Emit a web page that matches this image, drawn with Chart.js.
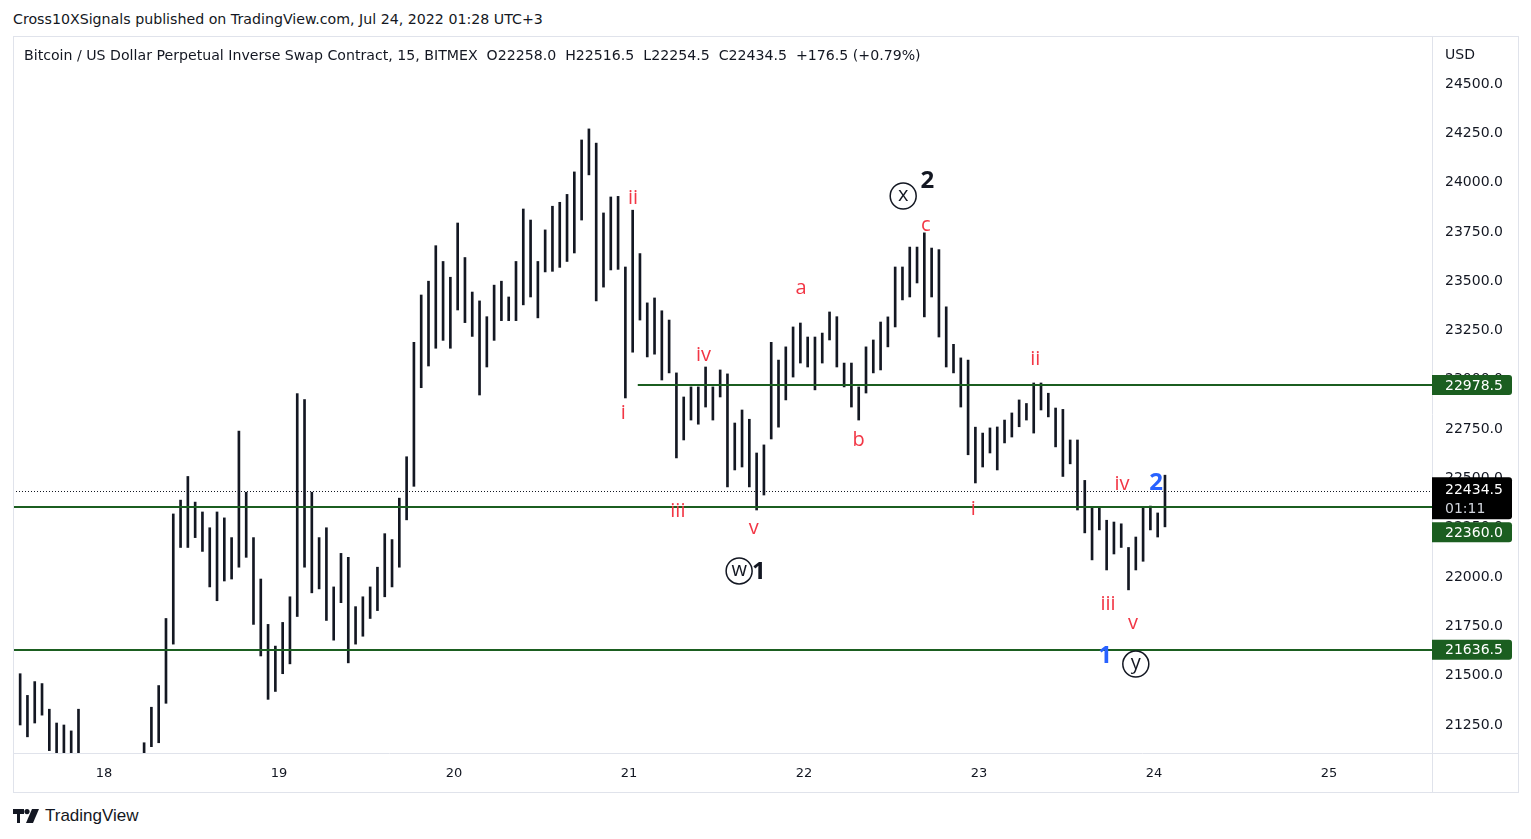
<!DOCTYPE html>
<html><head><meta charset="utf-8">
<script src="https://cdn.jsdelivr.net/npm/chart.js@4/dist/chart.umd.min.js"></script>
<style>
html,body{margin:0;padding:0;background:#fff;width:1531px;height:839px;overflow:hidden;font-family:"DejaVu Sans",sans-serif;color:#131722}
#hdr{position:absolute;left:13px;top:11px;font-size:14.2px;white-space:nowrap}
#frame{position:absolute;left:13px;top:36px;width:1504px;height:755px;border:1px solid #e0e3eb;pointer-events:none}
#wrap{position:absolute;left:13px;top:36px;width:1506px;height:757px}
#legend{position:absolute;left:24px;top:47px;font-size:14.15px;white-space:nowrap}
#usd{position:absolute;left:1445px;top:46px;font-size:14px}
#logo{position:absolute;left:13px;top:805px;height:22px;display:flex;align-items:center}
#logo span{font-size:17px;margin-left:6px;color:#131722;font-family:"Liberation Sans",Arial,sans-serif}
</style>
</head><body>
<div id="hdr">Cross10XSignals published on TradingView.com, Jul 24, 2022 01:28 UTC+3</div>
<div id="wrap"><canvas id="c"></canvas></div>
<div id="frame"></div>
<div id="legend">Bitcoin / US Dollar Perpetual Inverse Swap Contract, 15, BITMEX&nbsp; O22258.0&nbsp; H22516.5&nbsp; L22254.5&nbsp; C22434.5&nbsp; +176.5 (+0.79%)</div>
<div id="usd">USD</div>
<div id="logo"><svg width="26" height="14" viewBox="0 0 26 14"><path d="M0 0h11v5H7v9H4V5H0z" fill="#131722"/><circle cx="14" cy="2.6" r="2.6" fill="#131722"/><path d="M19 0h7l-6 14h-7z" fill="#131722"/></svg><span>TradingView</span></div>
<script>
// hourly bars, first bar = Jul 17 12:00 (hours relative to Jul 18 00:00)
const startHour = -12;
const highs = [21510,21400,21470,21460,21330,21260,21250,21220,21330,21080,21060,21020,21000,21040,21070,21090,21100,21160,21340,21450,
21790,22320,22390,22510,22380,22330,22250,22330,22300,22200,22740,22430,22200,21990,21760,21650,21770,21900,22930,22900,
22430,22200,22250,21950,22120,22100,21850,21900,21950,22050,22220,22190,22400,22610,23190,23430,23500,23680,23600,23520,
23795,23620,23445,23400,23320,23480,23500,23420,23600,23866,23810,23600,23760,23880,23900,23940,24054,24216,24272,24200,
23846,23927,23930,23572,23860,23640,23390,23415,23350,23303,23035,22913,22964,22964,23065,22964,23050,23030,22781,22847,
22800,22629,22670,23190,23100,23167,23268,23288,23217,23217,23237,23344,23320,23085,23085,22964,23167,23202,23293,23319,
23572,23572,23673,23673,23745,23668,23660,23370,23180,23111,23100,22760,22730,22756,22761,22796,22832,22898,22880,22984,
22984,22932,22857,22850,22695,22695,22490,22355,22355,22288,22279,22270,22150,22203,22350,22360,22325,22516.5];
const lows = [21250,21190,21260,21300,21120,21050,21050,21040,21050,20900,20880,20850,20800,20830,20880,20900,20920,21050,21140,21160,
21360,21660,22150,22150,22200,22130,21950,21880,21980,21990,22050,22100,21760,21600,21380,21420,21510,21560,21800,22050,
21920,21940,21780,21680,21870,21565,21660,21700,21790,21830,21900,21950,22050,22290,22460,22960,23070,23160,23200,23160,
23354,23290,23220,22923,23065,23200,23300,23300,23300,23380,23420,23314,23547,23550,23570,23600,23643,23810,24039,23400,
23470,23557,23560,22908,23140,23303,23116,23130,22999,23035,22604,22695,22796,22775,22862,22796,22913,22457,22543,22558,
22457,22340,22416,22700,22760,22898,23014,23085,23065,22949,23085,23202,23065,22964,22862,22796,22933,23035,23050,23167,
23268,23405,23420,23491,23319,23420,23217,23065,23035,22862,22620,22477,22558,22629,22543,22680,22710,22762,22796,22730,
22847,22812,22660,22510,22574,22340,22224,22087,22239,22036,22117,22150,21935,22036,22080,22239,22203,22254.5];
const dayLabels = ['18','19','20','21','22','23','24','25'];
const priceTicks = [21250,21500,21750,22000,22250,22500,22750,23000,23250,23500,23750,24000,24250,24500];
const levels = [22978.5, 22360.0, 21636.5];
const levelStartHours = [73.2, null, null];
const lastClose = 22434.5;
const countdown = '01:11';
// wave labels: [hour, price, text, kind]
const waveLabels = [
 [72.55,23922,'ii','r'],[71.2,22832,'i','r'],[82.2,23126,'iv','r'],[78.7,22335,'iii','r'],[89.1,22249,'v','r'],
 [95.6,23466,'a','r'],[103.5,22695,'b','r'],[112.7,23785,'c','r'],
 [127.7,23106,'ii','r'],[119.2,22345,'i','r'],[139.6,22472,'iv','r'],[137.7,21863,'iii','r'],[141.1,21767,'v','r'],
 [109.6,23932,'x','circle'],[112.9,24008,'2','bk'],
 [87.1,22031,'w','circle'],[89.8,22026,'1','bk'],
 [141.5,21559,'y','circle'],[137.3,21600,'1','bl'],[144.3,22477,'2','bl']
];

const bars = highs.map((h,i)=>({x: startHour + i + 0.5, y:[lows[i], h]}));

const overlay = {
  id:'overlay',
  afterDatasetsDraw(chart){
    const {ctx, chartArea:a, scales:{x,y}} = chart;
    ctx.save();
    ctx.beginPath(); ctx.rect(a.left,a.top,a.right-a.left,a.bottom-a.top); ctx.clip();
    const yl = Math.round(y.getPixelForValue(lastClose))+0.5;
    ctx.strokeStyle='#131722'; ctx.lineWidth=1; ctx.setLineDash([1,2]);
    ctx.beginPath(); ctx.moveTo(a.left,yl); ctx.lineTo(a.right,yl); ctx.stroke();
    ctx.setLineDash([]);
    ctx.strokeStyle='#1b5e20'; ctx.lineWidth=2;
    levels.forEach((v,k)=>{
      const py = Math.round(y.getPixelForValue(v))+1;
      const sx = levelStartHours[k]===null ? a.left : x.getPixelForValue(levelStartHours[k]);
      ctx.beginPath(); ctx.moveTo(sx,py); ctx.lineTo(a.right,py); ctx.stroke();
    });
    ctx.textAlign='center'; ctx.textBaseline='middle';
    waveLabels.forEach(([h,p,t,k])=>{
      const px=x.getPixelForValue(h), py=y.getPixelForValue(p);
      if(k==='r'){ctx.fillStyle='#f23645'; ctx.font='20px "Open Sans", sans-serif'; ctx.fillText(t,px,py);}
      else if(k==='circle'){
        ctx.strokeStyle='#131722'; ctx.lineWidth=1.5;
        ctx.beginPath(); ctx.arc(px,py,13,0,Math.PI*2); ctx.stroke();
        ctx.fillStyle='#131722'; ctx.font='20px "Open Sans", sans-serif'; ctx.fillText(t,px,py-1);
      } else {
        ctx.fillStyle = k==='bk' ? '#131722' : '#2962ff';
        ctx.font='bold 24px "Open Sans", sans-serif'; ctx.fillText(t,px,py);
      }
    });
    ctx.restore();
  },
  afterDraw(chart){
    const {ctx, chartArea:a, scales:{y}} = chart;
    const W = chart.width, H = chart.height;
    ctx.save();
    ctx.strokeStyle='#e0e3eb'; ctx.lineWidth=1;
    ctx.beginPath(); ctx.moveTo(a.right+0.5,0); ctx.lineTo(a.right+0.5,H); ctx.stroke();
    ctx.beginPath(); ctx.moveTo(0,a.bottom+0.5); ctx.lineTo(W,a.bottom+0.5); ctx.stroke();
    const bw = 80;
    function box(top,h,bg){
      ctx.fillStyle=bg; ctx.beginPath();
      ctx.roundRect(a.right,top,bw,h,[0,3,3,0]); ctx.fill();
    }
    ctx.font='14px "DejaVu Sans", sans-serif'; ctx.textAlign='left'; ctx.textBaseline='middle';
    const tx = a.right+13;
    const yg1 = y.getPixelForValue(levels[0])+1;
    box(yg1-10,20,'#1b5e20'); ctx.fillStyle='#fff'; ctx.fillText(levels[0].toFixed(1),tx,yg1+1);
    const yg3 = y.getPixelForValue(levels[2])+1;
    box(yg3-10,20,'#1b5e20'); ctx.fillStyle='#fff'; ctx.fillText(levels[2].toFixed(1),tx,yg3+1);
    const yl = y.getPixelForValue(lastClose);
    box(yl-14,42,'#000000');
    ctx.fillStyle='#fff'; ctx.fillText(lastClose.toFixed(1),tx,yl-1);
    ctx.fillStyle='#d1d4dc'; ctx.fillText(countdown,tx,yl+18);
    const t2 = yl-14+42+3;
    box(t2,20,'#1b5e20'); ctx.fillStyle='#fff'; ctx.fillText(levels[1].toFixed(1),tx,t2+11);
    ctx.restore();
  }
};

new Chart(document.getElementById('c'),{
  type:'bar',
  data:{datasets:[{data:bars,backgroundColor:'#131722',barThickness:2,grouped:false}]},
  options:{
    responsive:true, maintainAspectRatio:false, animation:false,
    layout:{padding:{top:1,left:0,right:0,bottom:0}},
    plugins:{legend:{display:false},tooltip:{enabled:false}},
    scales:{
      x:{type:'linear',min:-12.48,max:182.12,offset:false,
        grid:{display:false,drawTicks:false,offset:false},border:{display:false},
        afterBuildTicks:s=>{s.ticks=dayLabels.map((_,k)=>({value:k*24}));},
        afterFit:s=>{s.height=40;s.paddingLeft=0;s.paddingRight=0;s.paddingTop=0;s.paddingBottom=0;},
        ticks:{autoSkip:false,maxRotation:0,padding:13,color:'#131722',font:{family:'"DejaVu Sans", sans-serif',size:13},
          callback:v=>dayLabels[Math.round(v/24)]}
      },
      y:{position:'right',min:21108,max:24738,offset:false,
        grid:{display:false,drawTicks:false},border:{display:false},
        afterBuildTicks:s=>{s.ticks=priceTicks.map(v=>({value:v}));},
        afterFit:s=>{s.width=87;s.paddingLeft=0;s.paddingRight=0;s.paddingTop=0;s.paddingBottom=0;},
        ticks:{padding:13,color:'#131722',font:{family:'"DejaVu Sans", sans-serif',size:14},callback:v=>v.toFixed(1)}
      }
    }
  },
  plugins:[overlay]
});
</script>
</body></html>
